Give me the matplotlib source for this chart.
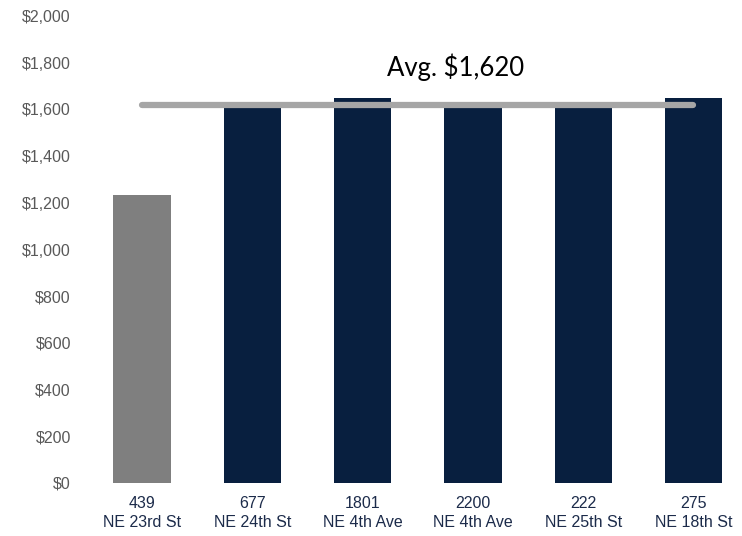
import matplotlib
matplotlib.use('Agg')
import matplotlib.pyplot as plt
from matplotlib.ticker import FuncFormatter

# Data
addresses = ['439\nNE 23rd St', '677\nNE 24th St', '1801\nNE 4th Ave',
             '2200\nNE 4th Ave', '222\nNE 25th St', '275\nNE 18th St']
rents = [1235, 1605, 1650, 1605, 1605, 1650]
avg_rent = 1620
avg_label = 'Avg. $1,620'
y_ticks = [0, 200, 400, 600, 800, 1000, 1200, 1400, 1600, 1800, 2000]

navy = '#081f3f'
subject_gray = '#7f7f7f'
avg_gray = '#a6a6a6'
bar_colors = [subject_gray] + [navy] * (len(rents) - 1)

fig = plt.figure(figsize=(7.42, 5.36), dpi=100)
ax = fig.add_axes([86.9 / 742, 53 / 536, (742 - 86.9) / 742, 467 / 536])

x = list(range(len(rents)))
ax.bar(x, rents, width=0.52, color=bar_colors, zorder=2)

# average line from the first to the last bar centre
ax.plot([x[0], x[-1]], [avg_rent, avg_rent], color=avg_gray, lw=4.5,
        solid_capstyle='round', zorder=3)
ax.text(2.84, 1742, avg_label, ha='center', va='baseline',
        fontsize=18.5, family=['Lato', 'DejaVu Sans'], color='black')

ax.set_xlim(-0.5, 5.44)
ax.set_ylim(0, 2000)
ax.set_yticks(y_ticks)
ax.yaxis.set_major_formatter(FuncFormatter(lambda v, p: f'${v:,.0f}'))
ax.set_xticks(x)
ax.set_xticklabels(addresses)

for s in ax.spines.values():
    s.set_visible(False)
ax.tick_params(axis='both', length=0)
ax.tick_params(axis='y', pad=11.5, labelsize=11.5, labelcolor='#595959')
ax.tick_params(axis='x', pad=9, labelsize=11.5, labelcolor='#1c2b4a')
for lbl in ax.get_yticklabels():
    lbl.set_family(['Liberation Sans', 'DejaVu Sans'])
for lbl in ax.get_xticklabels():
    lbl.set_family(['Liberation Sans', 'DejaVu Sans'])
    lbl.set_linespacing(1.35)

fig.savefig('out.png', dpi=100)
